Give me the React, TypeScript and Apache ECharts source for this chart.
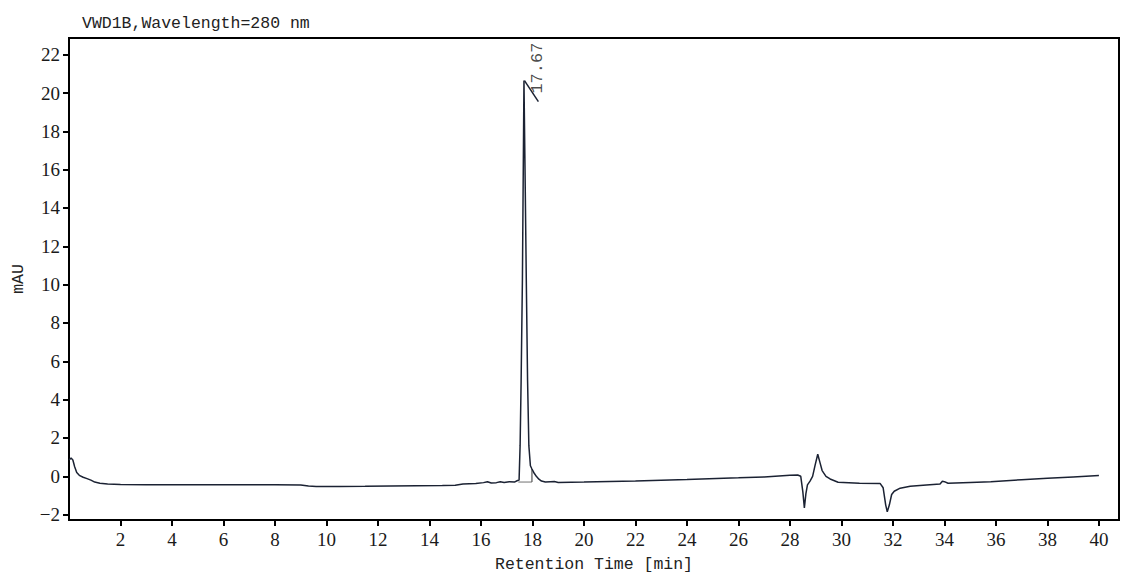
import React, { useEffect, useRef } from 'react';
import * as echarts from 'echarts';

// Retention time (min) and detector signal (mAU)
const retentionTimes = [
  0.0, 0.08, 0.15, 0.22, 0.3, 0.4, 0.55, 0.7, 0.85, 1.0, 1.2, 1.5, 2.0, 3.0, 4.0, 5.0, 6.0, 7.0, 8.0, 9.0,
  9.3, 9.6, 10.5, 11.5, 12.5, 13.5, 14.5, 15.0, 15.3, 15.8, 16.1, 16.25, 16.4, 16.6, 16.75, 16.9, 17.1, 17.3,
  17.42, 17.48, 17.52, 17.56, 17.61, 17.67, 17.72, 17.76, 17.81, 17.86, 17.92, 17.98, 18.05, 18.15, 18.25,
  18.35, 18.5, 18.7, 18.85, 19.0, 20.0, 22.0, 24.0, 26.0, 27.0, 28.0, 28.3, 28.42, 28.5, 28.56, 28.62, 28.68,
  28.78, 28.88, 28.98, 29.08, 29.17, 29.25, 29.4, 29.56, 29.87, 30.7, 31.5, 31.62, 31.72, 31.78, 31.86, 31.95,
  32.05, 32.28, 32.67, 33.3, 33.83, 33.92, 34.0, 34.14, 35.0, 35.8, 37.0, 38.0, 39.0, 40.0,
];
const signal = [
  0.85, 0.95, 0.85, 0.5, 0.2, 0.05, -0.05, -0.12, -0.2, -0.3, -0.36, -0.4, -0.43, -0.44, -0.44, -0.44, -0.44, -0.44, -0.44, -0.45,
  -0.51, -0.53, -0.53, -0.52, -0.5, -0.49, -0.48, -0.47, -0.4, -0.38, -0.33, -0.28, -0.35, -0.33, -0.28, -0.32, -0.28, -0.3,
  -0.22, -0.2, 1.6, 5.0, 10.3, 20.65, 15.0, 10.3, 5.0, 1.6, 0.55, 0.38, 0.2, 0.0, -0.15,
  -0.25, -0.3, -0.28, -0.27, -0.32, -0.3, -0.24, -0.17, -0.08, -0.03, 0.05, 0.07, 0.0, -0.8, -1.65, -0.9, -0.45,
  -0.25, 0.0, 0.6, 1.15, 0.7, 0.3, 0.0, -0.14, -0.31, -0.36, -0.37, -0.6, -1.5, -1.85, -1.5, -0.95,
  -0.78, -0.62, -0.52, -0.45, -0.4, -0.26, -0.28, -0.36, -0.32, -0.28, -0.18, -0.1, -0.03, 0.04,
];

// integration baseline and drop line for the main peak
const peakBaseline = [[17.45, -0.3], [17.98, -0.3]];
const peakDropLine = [[17.98, -0.3], [17.98, 0.38]];
// apex marker and retention-time label
const apexMarker = [[17.69, 20.65], [18.23, 19.55]];
const peakLabels = [{ time: 18.19, value: 21.3, text: '17.67' }];

const xTicks = [2, 4, 6, 8, 10, 12, 14, 16, 18, 20, 22, 24, 26, 28, 30, 32, 34, 36, 38, 40];
const yTicks = [-2, 0, 2, 4, 6, 8, 10, 12, 14, 16, 18, 20, 22];

const MONO = "'Liberation Mono', 'DejaVu Sans Mono', monospace";
const SERIF = "'Liberation Serif', 'DejaVu Serif', serif";

const App: React.FC = () => {
  const chartRef = useRef<HTMLDivElement>(null);

  useEffect(() => {
    document.body.style.margin = '0';
    if (!chartRef.current) return;
    const chart = echarts.init(chartRef.current, undefined, { renderer: 'svg' });

    const trace = retentionTimes.map((t, i) => [t, signal[i]]);
    const tickLabelStyle = { fontFamily: SERIF, fontSize: 19, color: '#1a1a1a' };

    const option: echarts.EChartsOption = {
      animation: false,
      backgroundColor: '#ffffff',
      textStyle: { fontFamily: SERIF },
      title: {
        text: 'VWD1B,Wavelength=280 nm',
        left: 77,
        top: 10,
        textStyle: { fontFamily: MONO, fontSize: 16.5, fontWeight: 'normal', color: '#222' },
      },
      grid: {
        left: 69,
        right: 18,
        top: 38,
        bottom: 57,
        show: true,
        borderColor: '#000',
        borderWidth: 2,
      },
      xAxis: {
        type: 'value',
        min: 0,
        max: 40.78,
        name: 'Retention Time [min]',
        nameLocation: 'middle',
        nameGap: 36,
        nameTextStyle: { fontFamily: MONO, fontSize: 16.5, color: '#222' },
        axisLine: { show: true, onZero: false, lineStyle: { color: '#000', width: 2 } },
        axisTick: { show: true, length: 6, lineStyle: { color: '#000', width: 2 }, customValues: xTicks },
        axisLabel: {
          customValues: xTicks,
          margin: 10,
          ...tickLabelStyle,
          formatter: (v: number) => String(v),
        },
        splitLine: { show: false },
      },
      yAxis: {
        type: 'value',
        min: -2.28,
        max: 22.87,
        name: 'mAU',
        nameLocation: 'middle',
        nameGap: 42,
        nameTextStyle: { fontFamily: MONO, fontSize: 16.5, color: '#222' },
        axisLine: { show: true, onZero: false, lineStyle: { color: '#000', width: 2 } },
        axisTick: { show: true, length: 6, lineStyle: { color: '#000', width: 2 }, customValues: yTicks },
        axisLabel: {
          customValues: yTicks,
          margin: 9,
          ...tickLabelStyle,
          formatter: (v: number) => String(v).replace('-', '\u2212'),
        },
        splitLine: { show: false },
      },
      series: [
        {
          type: 'line',
          data: peakBaseline,
          symbol: 'none',
          lineStyle: { color: '#a0a0a0', width: 1.5 },
          z: 1,
        },
        {
          type: 'line',
          data: peakDropLine,
          symbol: 'none',
          lineStyle: { color: '#555', width: 1.2 },
          z: 1,
        },
        {
          type: 'line',
          data: trace,
          symbol: 'none',
          smooth: false,
          lineStyle: { color: '#1b2233', width: 1.5 },
          z: 2,
        },
        {
          type: 'line',
          data: apexMarker,
          symbol: 'none',
          lineStyle: { color: '#1b2233', width: 1.5 },
          z: 2,
        },
        {
          type: 'scatter',
          data: peakLabels.map((p) => ({ value: [p.time, p.value], name: p.text })),
          symbolSize: 0,
          label: {
            show: true,
            position: 'inside',
            rotate: 90,
            formatter: (p: any) => p.name,
            fontFamily: MONO,
            fontSize: 17,
            color: '#1a1a1a',
          },
          z: 3,
        },
      ],
    };

    chart.setOption(option as any);
    return () => {
      chart.dispose();
    };
  }, []);

  return <div ref={chartRef} style={{ width: 1137, height: 578 }} />;
};

export default App;
